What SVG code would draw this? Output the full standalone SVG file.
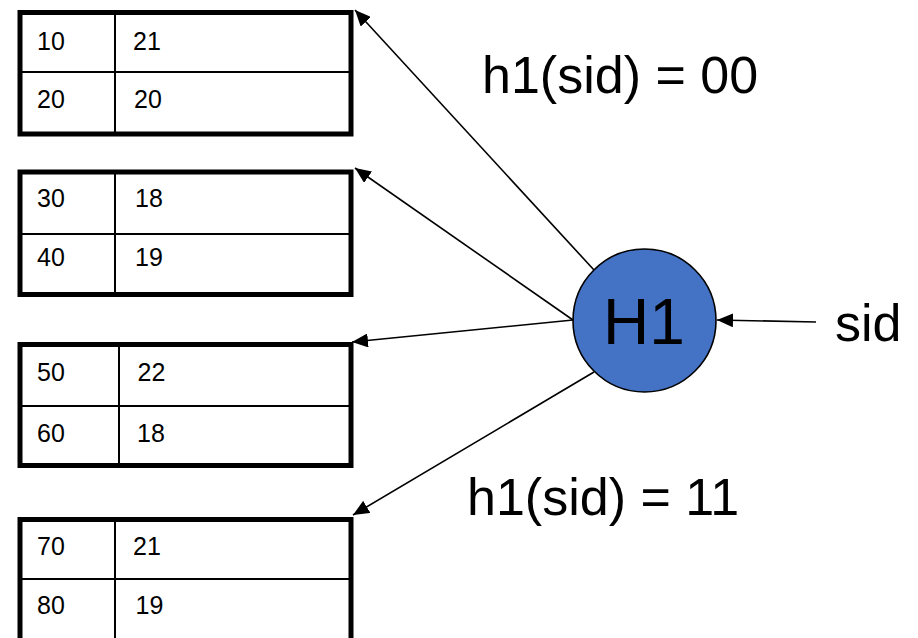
<svg xmlns="http://www.w3.org/2000/svg" width="918" height="638" viewBox="0 0 918 638">
<style>
.outer{fill:#fff;stroke:#000;stroke-width:5}
.inner{stroke:#000;stroke-width:2;fill:none}
.cell{font-family:"Liberation Sans",Arial,sans-serif;font-size:25px;fill:#000}
.big{font-family:"Liberation Sans",Arial,sans-serif;font-size:52px;fill:#000}
.conn{stroke:#000;stroke-width:1.6;fill:none;marker-end:url(#ah)}
</style>
<defs>
<marker id="ah" viewBox="0 0 16 14" refX="16" refY="7" markerWidth="16" markerHeight="14" markerUnits="userSpaceOnUse" orient="auto">
<path d="M0,0 L16,7 L0,14 Z" fill="#000"/>
</marker>
</defs>
<rect width="918" height="638" fill="#fff"/>
<g id="bucket1">
<rect class="outer" x="20" y="12.5" width="331" height="121.5"/>
<line class="inner" x1="115" y1="12.5" x2="115" y2="134"/>
<line class="inner" x1="20" y1="72" x2="351" y2="72"/>
<text class="cell" x="37" y="50">10</text><text class="cell" x="133" y="50">21</text>
<text class="cell" x="37" y="108">20</text><text class="cell" x="134" y="108">20</text>
</g>
<g id="bucket2">
<rect class="outer" x="20" y="172" width="331" height="122.5"/>
<line class="inner" x1="115" y1="172" x2="115" y2="294.5"/>
<line class="inner" x1="20" y1="234" x2="351" y2="234"/>
<text class="cell" x="37" y="207">30</text><text class="cell" x="135" y="207">18</text>
<text class="cell" x="37" y="266">40</text><text class="cell" x="135" y="266">19</text>
</g>
<g id="bucket3">
<rect class="outer" x="20" y="344.5" width="331" height="121"/>
<line class="inner" x1="119" y1="344.5" x2="119" y2="465.5"/>
<line class="inner" x1="20" y1="406" x2="351" y2="406"/>
<text class="cell" x="37" y="381">50</text><text class="cell" x="137.5" y="381">22</text>
<text class="cell" x="37" y="442">60</text><text class="cell" x="137" y="442">18</text>
</g>
<g id="bucket4">
<rect class="outer" x="20" y="519.5" width="331" height="126"/>
<line class="inner" x1="115" y1="519.5" x2="115" y2="645"/>
<line class="inner" x1="20" y1="579" x2="351" y2="579"/>
<text class="cell" x="37" y="555">70</text><text class="cell" x="133" y="555">21</text>
<text class="cell" x="37" y="614">80</text><text class="cell" x="135.5" y="614">19</text>
</g>
<g id="H1">
<circle cx="644.5" cy="320.5" r="71.5" fill="#4472C4" stroke="#000" stroke-width="1.6"/>
<text x="644" y="344" text-anchor="middle" font-family="Liberation Sans, Arial, sans-serif" font-size="64" fill="#000">H1</text>
</g>
<g id="sid"><text class="big" x="835" y="341">sid</text></g>
<g id="label00"><text class="big" x="482" y="93">h1(sid) = 00</text></g>
<g id="label11"><text class="big" x="467" y="515">h1(sid) = 11</text></g>
<g id="connectors">
<line class="conn" x1="594" y1="270" x2="355" y2="10"/>
<line class="conn" x1="573" y1="320" x2="355" y2="168"/>
<line class="conn" x1="573" y1="320" x2="352" y2="342"/>
<line class="conn" x1="594" y1="372" x2="353" y2="515"/>
<line class="conn" x1="816" y1="322" x2="717" y2="320"/>
</g>
</svg>
